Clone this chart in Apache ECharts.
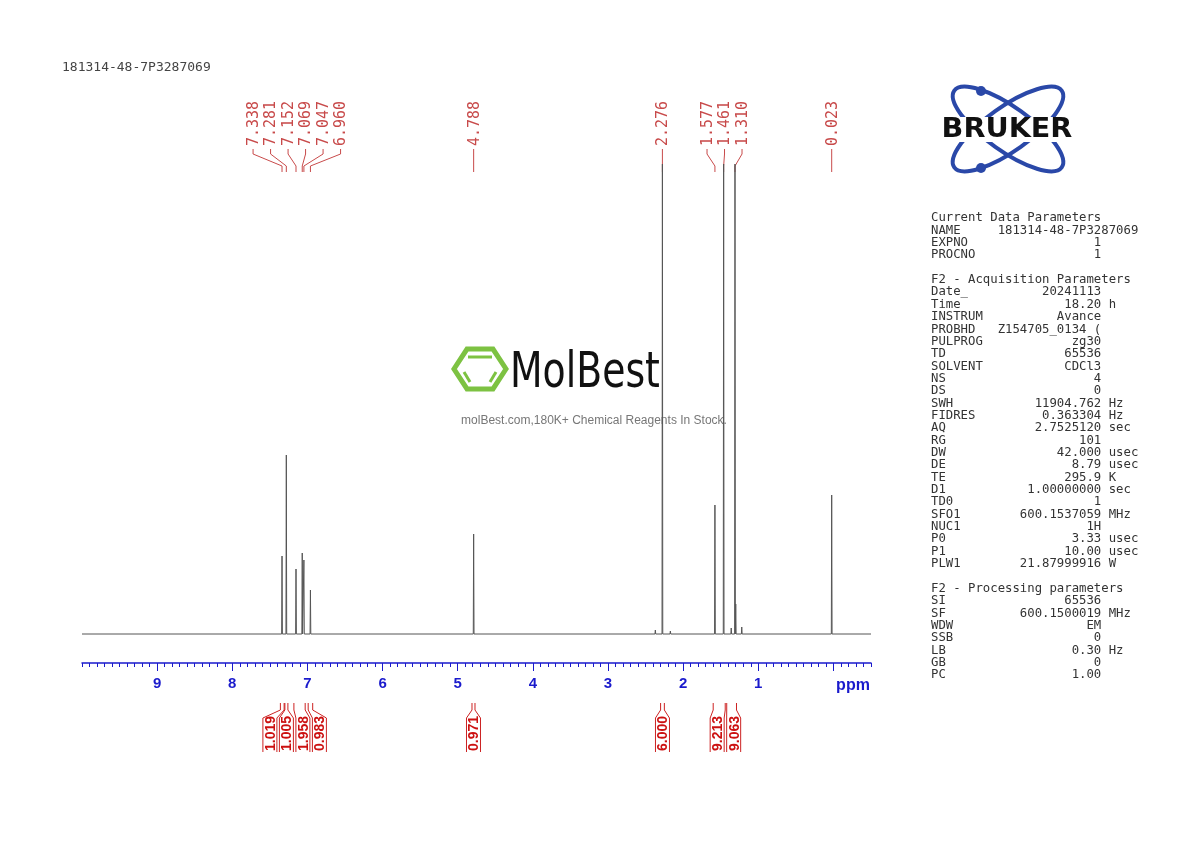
<!DOCTYPE html>
<html><head><meta charset="utf-8">
<script src="https://cdn.jsdelivr.net/npm/echarts@6/dist/echarts.min.js"></script>
<style>html,body{margin:0;padding:0;background:#fff}#c{width:1190px;height:842px}</style>
</head><body><div id="c"></div>
<script>
// ---- data ----
const title = "181314-48-7P3287069";
const peakPpm    = [7.338, 7.281, 7.152, 7.069, 7.047, 6.960, 4.788, 2.276, 1.577, 1.461, 1.310, 0.023];
const peakHeight = [78, 179, 65, 81, 74, 44, 100, 470, 129, 470, 470, 139];
const minorPpm    = [2.37, 2.17, 1.36, 1.22, 1.30];
const minorHeight = [4, 3, 6, 7, 30];
const labelPeaks = [7.338, 7.281, 7.152, 7.069, 7.047, 6.960, 4.788, 2.276, 1.577, 1.461, 1.310, 0.023];
const integralFrom  = [7.36, 7.30, 7.18, 6.99, 4.81, 2.30, 1.60, 1.42];
const integralTo    = [7.31, 7.26, 7.03, 6.93, 4.77, 2.25, 1.44, 1.29];
const integralValue = ["1.019", "1.005", "1.958", "0.983", "0.971", "6.000", "9.213", "9.063"];
const axisLabels = [1, 2, 3, 4, 5, 6, 7, 8, 9];
const sec1Name = ["NAME","EXPNO","PROCNO"];
const sec1Val  = ["181314-48-7P3287069","1","1"];
const sec2Name = ["Date_","Time","INSTRUM","PROBHD","PULPROG","TD","SOLVENT","NS","DS","SWH","FIDRES","AQ","RG","DW","DE","TE","D1","TD0","SFO1","NUC1","P0","P1","PLW1"];
const sec2Val  = ["20241113","18.20","Avance","Z154705_0134 (","zg30","65536","CDCl3","4","0","11904.762","0.363304","2.7525120","101","42.000","8.79","295.9","1.00000000","1","600.1537059","1H","3.33","10.00","21.87999916"];
const sec2Unit = ["","h","","","","","","","","Hz","Hz","sec","","usec","usec","K","sec","","MHz","","usec","usec","W"];
const sec3Name = ["SI","SF","WDW","SSB","LB","GB","PC"];
const sec3Val  = ["65536","600.1500019","EM","0","0.30","0","1.00"];
const sec3Unit = ["","MHz","","","Hz","",""];
// ---- build text ----
function row(n,v,u){ if(v.length>14) return n.padEnd(9)+v; return n.padEnd(9)+v.padStart(14)+(u?' '+u:''); }
const params = ["Current Data Parameters"]
 .concat(sec1Name.map((n,i)=>row(n,sec1Val[i],'')),[""],["F2 - Acquisition Parameters"])
 .concat(sec2Name.map((n,i)=>row(n,sec2Val[i],sec2Unit[i])),[""],["F2 - Processing parameters"])
 .concat(sec3Name.map((n,i)=>row(n,sec3Val[i],sec3Unit[i])));
// ---- build spectrum line ----
const w = 0.005;
let pts = [];
const all = peakPpm.map((p,i)=>[p,peakHeight[i]]).concat(minorPpm.map((p,i)=>[p,minorHeight[i]]));
all.forEach(([p,h])=>{ pts.push([p+w,0],[p,h],[p-w,0]); });
pts.push([10,0],[-0.5,0]);
pts.sort((a,b)=>b[0]-a[0]);

const chart = echarts.init(document.getElementById('c'));
const blue = '#1a1acc';
chart.setOption({
  animation:false,
  grid:{left:82,right:319,top:170,bottom:179},
  xAxis:[{
    type:'value', inverse:true, min:-0.5, max:10, interval:0.1,
    axisLine:{onZero:false,lineStyle:{color:blue,width:1.5}},
    axisTick:{length:4,lineStyle:{color:blue}},
    axisLabel:{interval:0,margin:13,color:blue,fontWeight:'bold',fontSize:15,fontFamily:'Liberation Sans',
      formatter:v=>{const r=Math.round(v);return (Math.abs(v-r)<1e-6 && axisLabels.includes(r))?String(r):'';}},
    splitLine:{show:false}
  },{
    type:'value', inverse:true, min:-0.5, max:10, position:'bottom', gridIndex:0,
    axisLine:{show:false,onZero:false},
    axisTick:{show:true,length:8,lineStyle:{color:blue},customValues:[0,1,2,3,4,5,6,7,8,9]},
    axisLabel:{show:false}, splitLine:{show:false}
  }],
  yAxis:{type:'value',min:-29,max:464,show:false},
  series:[{type:'line',data:pts,showSymbol:false,clip:false,lineStyle:{color:'#555',width:1}}]
});

const px = v=>chart.convertToPixel({xAxisIndex:0},v);
function spread(xs, gap){
  const out=[]; let i=0;
  while(i<xs.length){
    let j=i; while(j+1<xs.length && xs[j+1]-xs[j]<gap) j++;
    const grp=xs.slice(i,j+1); const m=grp.reduce((a,b)=>a+b,0)/grp.length;
    grp.forEach((_,k)=>out.push(m+(k-(grp.length-1)/2)*gap));
    i=j+1;
  }
  return out;
}
const g=[];
const red='#c84a4a';
const ppx=labelPeaks.map(px);
const lx=spread(ppx,17.5);
labelPeaks.forEach((p,i)=>{
  g.push({type:'text',x:lx[i]+1,y:146,rotation:Math.PI/2,style:{text:p.toFixed(3),fill:red,font:'15px "DejaVu Sans Mono"',align:'left',verticalAlign:'middle'}});
  g.push({type:'polyline',shape:{points:[[lx[i],149],[lx[i],154],[ppx[i],166],[ppx[i],172]]},style:{stroke:red,lineWidth:1,fill:null}});
});
const ic=integralFrom.map((f,i)=>(px(f)+px(integralTo[i]))/2);
const il=spread(ic,16.5);
integralValue.forEach((v,i)=>{
  const a=px(integralFrom[i]), b=px(integralTo[i]), c=il[i];
  g.push({type:'polyline',shape:{points:[[a,703],[a,710],[c-7,718],[c-7,752]]},style:{stroke:'#cc2222',lineWidth:1,fill:null}});
  g.push({type:'polyline',shape:{points:[[b,703],[b,710],[c+7,718],[c+7,752]]},style:{stroke:'#cc2222',lineWidth:1,fill:null}});
  g.push({type:'text',x:c+1,y:751,rotation:Math.PI/2,style:{text:v,fill:'#cc1111',font:'bold 14px "Liberation Sans"',align:'left',verticalAlign:'middle'}});
});
g.push({type:'text',x:62,y:68,style:{text:title,fill:'#444',font:'13px "DejaVu Sans Mono"',verticalAlign:'middle'}});
g.push({type:'text',x:853,y:686,style:{text:'ppm',fill:blue,font:'bold 16px "Liberation Sans"',align:'center',verticalAlign:'middle'}});
g.push({type:'text',x:931,y:212,style:{text:params.join('\n'),fill:'#333',font:'12.3px "DejaVu Sans Mono"',lineHeight:12.35,verticalAlign:'top'}});
// Bruker logo
const lb='#2a48a8';
g.push({type:'ellipse',x:1008,y:129,rotation:0.62,shape:{cx:0,cy:0,rx:66,ry:22},style:{stroke:lb,lineWidth:4,fill:null}});
g.push({type:'ellipse',x:1008,y:129,rotation:-0.62,shape:{cx:0,cy:0,rx:66,ry:22},style:{stroke:lb,lineWidth:4,fill:null}});
g.push({type:'circle',shape:{cx:981,cy:91,r:5},style:{fill:lb}});
g.push({type:'circle',shape:{cx:981,cy:168,r:5},style:{fill:lb}});
g.push({type:'rect',shape:{x:925,y:117,width:166,height:25},style:{fill:'#fff'}});
g.push({type:'text',x:1007,y:130,scaleX:1.1,style:{text:'BRUKER',fill:'#111',font:'bold 26px "DejaVu Sans"',align:'center',verticalAlign:'middle'}});
// MolBest watermark
const hex=[];for(let k=0;k<6;k++){const a=Math.PI/3*k;hex.push([480+26*Math.cos(a),369+23*Math.sin(a)]);}
g.push({type:'polygon',shape:{points:hex},style:{stroke:'#7dc242',lineWidth:5,fill:null}});
g.push({type:'polyline',shape:{points:[[468,357],[492,357]]},style:{stroke:'#7dc242',lineWidth:3}});
g.push({type:'polyline',shape:{points:[[464,372],[470,382]]},style:{stroke:'#7dc242',lineWidth:3}});
g.push({type:'polyline',shape:{points:[[496,372],[490,382]]},style:{stroke:'#7dc242',lineWidth:3}});
g.push({type:'text',x:510,y:374,scaleX:0.84,style:{text:'MolBest',fill:'#111',font:'50px "DejaVu Sans Condensed"',verticalAlign:'middle'}});
g.push({type:'text',x:594,y:421,style:{text:'molBest.com,180K+ Chemical Reagents In Stock.',fill:'#777',font:'12px "Liberation Sans"',align:'center',verticalAlign:'middle'}});
chart.setOption({graphic:g});
</script></body></html>
